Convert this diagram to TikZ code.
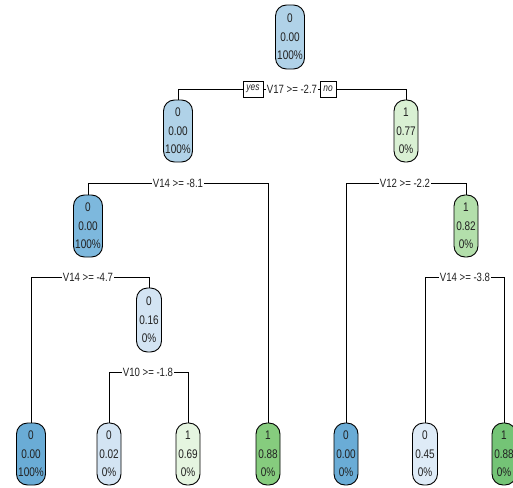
\documentclass[tikz,border=0pt]{standalone}
\usepackage{fontspec}
\newfontfamily\nf[FakeStretch=0.8]{Liberation Sans}
\definecolor{bA}{HTML}{B0D2E8}
\definecolor{bB}{HTML}{7DB8DD}
\definecolor{bC}{HTML}{6AACD6}
\definecolor{bD}{HTML}{D3E4F3}
\definecolor{bE}{HTML}{DEEBF7}
\definecolor{gA}{HTML}{D9F0D3}
\definecolor{gB}{HTML}{B3DFAB}
\definecolor{gC}{HTML}{E5F5E0}
\definecolor{gD}{HTML}{86CC7E}
\definecolor{gE}{HTML}{74C476}
\definecolor{txt}{HTML}{222222}
\tikzset{
  leafbox/.style={draw=black, line width=0.9pt, rounded corners=11pt, inner sep=0pt,
    minimum width=24pt, minimum height=62pt, align=center, font=\nf\fontsize{12.5}{18.5}\selectfont, text=txt},
  wide/.style={minimum width=29pt},
  splitlab/.style={fill=white, inner sep=1.2pt, font=\nf\fontsize{12}{13}\selectfont, text=txt},
  yn/.style={draw=black, line width=0.7pt, fill=white, inner sep=0pt, minimum height=16pt, font=\nf\itshape\fontsize{10.5}{12}\selectfont, text=txt},
  edge/.style={line width=0.9pt, black}
}
\begin{document}
\begin{tikzpicture}[x=1pt,y=-1pt]
\useasboundingbox (0,0) rectangle (513,487);
\clip (0,0) rectangle (513,487);
% nodes
\node[leafbox, wide, fill=bA, minimum height=64pt] (root) at (290,37) {0\\0.00\\100\%};
\node[leafbox, wide, fill=bA] (n1) at (178,131) {0\\0.00\\100\%};
\node[leafbox, fill=gA] (n2) at (406,131) {1\\0.77\\0\%};
\node[leafbox, wide, fill=bB] (n3) at (88,226) {0\\0.00\\100\%};
\node[leafbox, fill=bD, minimum width=25pt, minimum height=64pt] (n4) at (149,320) {0\\0.16\\0\%};
\node[leafbox, fill=gB] (n5) at (466,226) {1\\0.82\\0\%};
\node[leafbox, wide, fill=bC] (l1) at (31,454) {0\\0.00\\100\%};
\node[leafbox, fill=bD] (l2) at (109,454) {0\\0.02\\0\%};
\node[leafbox, fill=gC] (l3) at (188,454) {1\\0.69\\0\%};
\node[leafbox, fill=gD] (l4) at (268,454) {1\\0.88\\0\%};
\node[leafbox, fill=bC] (l5) at (346,454) {0\\0.00\\0\%};
\node[leafbox, fill=bE, minimum width=25pt] (l6) at (425,454) {0\\0.45\\0\%};
\node[leafbox, fill=gE] (l7) at (504,454) {1\\0.88\\0\%};
% split labels
\node[splitlab] (s1) at (292,89) {V17 >= -2.7};
\node[yn, minimum width=20pt] (yes) at (253,89) {yes};
\node[yn, minimum width=16pt] (no) at (328,89) {no};
\node[splitlab] (s2) at (178,183) {V14 >= -8.1};
\node[splitlab] (s3) at (88,277) {V14 >= -4.7};
\node[splitlab] (s4) at (148,372) {V10 >= -1.8};
\node[splitlab] (s5) at (405,183) {V12 >= -2.2};
\node[splitlab] (s6) at (465,277) {V14 >= -3.8};
% connectors
\draw[edge] (n1.north) |- (yes.west);
\draw[edge] (yes.east) -- (s1.west);
\draw[edge] (s1.east) -- (no.west);
\draw[edge] (no.east) -| (n2.north);
\draw[edge] (n3.north) |- (s2.west);
\draw[edge] (s2.east) -| (l4.north);
\draw[edge] (l1.north) |- (s3.west);
\draw[edge] (s3.east) -| (n4.north);
\draw[edge] (l2.north) |- (s4.west);
\draw[edge] (s4.east) -| (l3.north);
\draw[edge] (l5.north) |- (s5.west);
\draw[edge] (s5.east) -| (n5.north);
\draw[edge] (l6.north) |- (s6.west);
\draw[edge] (s6.east) -| (l7.north);
\end{tikzpicture}
\end{document}
